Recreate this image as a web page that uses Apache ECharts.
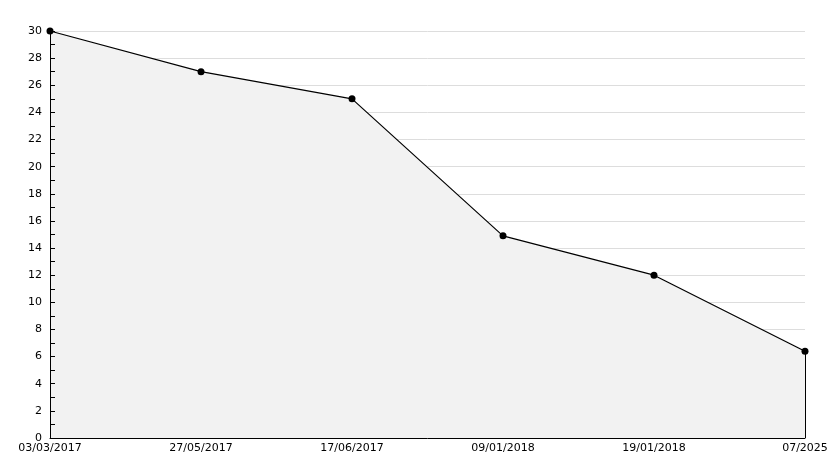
<!DOCTYPE html>
<html><head><meta charset="utf-8">
<script src="https://cdn.jsdelivr.net/npm/echarts@6/dist/echarts.min.js"></script>
<style>html,body{margin:0;padding:0;background:#fff}#c{width:834px;height:468px}</style>
</head><body><div id="c"></div>
<script>
const categories = ['03/03/2017','27/05/2017','17/06/2017','09/01/2018','19/01/2018','07/2025'];
const values = [30, 27, 25, 14.9, 12, 6.4];
const yMin = 0, yMax = 30, yStep = 2;

const chart = echarts.init(document.getElementById('c'), null, {renderer:'canvas'});
const font = 'DejaVu Sans';
const last = categories.length - 1;
chart.setOption({
  animation: false,
  backgroundColor: '#fff',
  grid: {left: 50, right: 29, top: 31, bottom: 30, containLabel: false},
  xAxis: {
    type: 'category', data: categories, boundaryGap: false, z: 5,
    axisLine: {show: true, lineStyle: {color: '#000', width: 1}},
    axisTick: {show: false},
    axisLabel: {color: '#000', fontFamily: font, fontSize: 11, margin: 5, interval: 0},
    splitLine: {show: false}
  },
  yAxis: [{
    type: 'value', min: yMin, max: yMax, interval: yStep, z: 0,
    axisLine: {show: false}, axisTick: {show: false}, axisLabel: {show: false},
    splitLine: {show: true, lineStyle: {color: '#dddddd', width: 1}}
  }, {
    type: 'value', min: yMin, max: yMax, interval: yStep, z: 5, position: 'left', offset: 0,
    axisLine: {show: true, lineStyle: {color: '#000', width: 1}},
    axisTick: {show: true, inside: true, length: 5, lineStyle: {color: '#000', width: 1}},
    minorTick: {show: true, splitNumber: 2, length: 5, lineStyle: {color: '#000', width: 1}},
    axisLabel: {color: '#000', fontFamily: font, fontSize: 11, margin: 8},
    splitLine: {show: false}
  }],
  series: [{
    type: 'line', data: values, z: 2, yAxisIndex: 0,
    symbol: 'circle', symbolSize: 7,
    itemStyle: {color: '#000'},
    lineStyle: {color: '#000', width: 1.2},
    areaStyle: {color: '#f2f2f2', opacity: 1},
    markLine: {
      silent: true, symbol: 'none', label: {show: false},
      lineStyle: {color: '#000', width: 1, type: 'solid'},
      data: [[{coord: [last, values[last]]}, {coord: [last, yMin]}]]
    }
  }]
});
</script></body></html>
